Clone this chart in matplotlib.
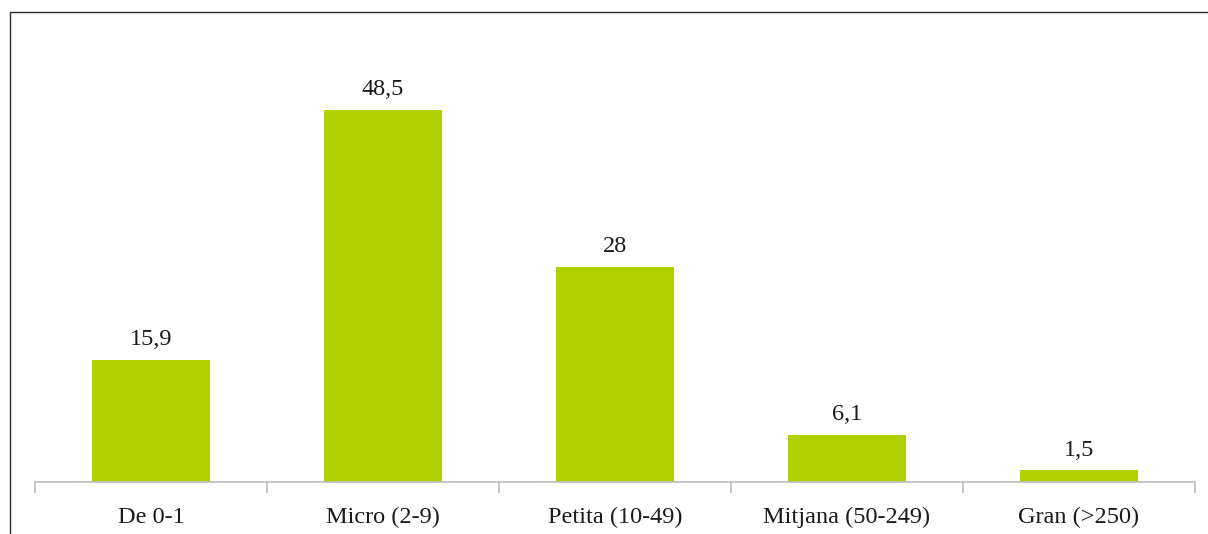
import matplotlib.pyplot as plt
from matplotlib.patches import Rectangle

# mida d'empresa i percentatge
categories = ['De 0-1', 'Micro (2-9)', 'Petita (10-49)', 'Mitjana (50-249)', 'Gran (>250)']
values = [15.9, 48.5, 28, 6.1, 1.5]
value_labels = ['15,9', '48,5', '28', '6,1', '1,5']

plt.rcParams['font.family'] = ['Liberation Serif', 'DejaVu Serif']

fig = plt.figure(figsize=(12.08, 5.34), dpi=100)
ax = fig.add_axes([35 / 1208, 1 - 482 / 534, 1160 / 1208, 422 / 534])

x = list(range(len(categories)))
bars = ax.bar(x, values, width=0.505, color='#B0D000')

for b, lab in zip(bars, value_labels):
    ax.annotate(lab, (b.get_x() + b.get_width() / 2, b.get_height()),
                xytext=(0, 7), textcoords='offset points',
                ha='center', va='bottom', fontsize=17.5, color='#1a1a1a')

ax.set_xlim(-0.5, len(categories) - 0.5)
ax.set_ylim(0, 55)

# ticks at the category boundaries, labels at the centres
ax.set_xticks([i - 0.5 for i in range(len(categories) + 1)])
ax.set_xticklabels([])
ax.set_xticks(x, minor=True)
ax.set_xticklabels(categories, minor=True, fontsize=17.5, color='#1a1a1a')
ax.tick_params(axis='x', which='major', length=8, width=1.2, color='#BFBFBF', direction='out')
ax.tick_params(axis='x', which='minor', length=0, pad=18)
ax.set_yticks([])

for s in ['top', 'right', 'left']:
    ax.spines[s].set_visible(False)
ax.spines['bottom'].set_color('#BFBFBF')
ax.spines['bottom'].set_linewidth(1.2)

# frame of the original image (cut at right and bottom)
fig.patches.append(Rectangle((10 / 1208, -0.1), 1.2, 1.1 - 12 / 534,
                             transform=fig.transFigure, fill=False,
                             edgecolor='#2b2b2b', linewidth=1.0))

fig.savefig('out.png', dpi=100)
